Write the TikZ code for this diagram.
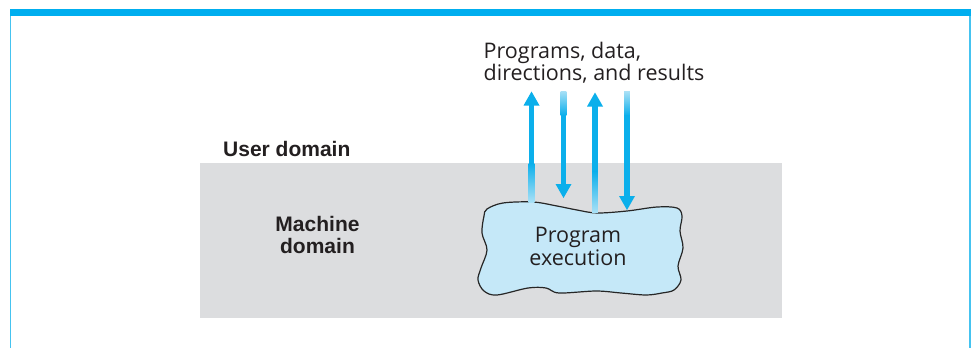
\documentclass[tikz,border=0pt]{standalone}
\usepackage{fontspec}
\setmainfont{Open Sans}
\newfontfamily\labelfont{Liberation Sans}
\usetikzlibrary{calc}
\definecolor{barc}{HTML}{00AEEF}
\definecolor{framec}{HTML}{45C3F0}
\definecolor{grayc}{HTML}{DCDDDF}
\definecolor{blobc}{HTML}{C5E8F8}
\definecolor{arrowc}{HTML}{0BAFEB}
\definecolor{fadec}{HTML}{A8E0F6}
\definecolor{textc}{HTML}{231F20}
\tikzset{
  regtext/.style={font=\fontsize{21.5}{22.5}\selectfont, text=textc, inner sep=0pt},
  boldtext/.style={font=\labelfont\bfseries\fontsize{21}{22}\selectfont, text=textc, inner sep=0pt},
}
\begin{document}
\begin{tikzpicture}[x=1pt,y=-1pt]
\useasboundingbox (0,0) rectangle (972,348);
% frame
\fill[barc] (10,9) rectangle (971,16);
\draw[framec, line width=1.5pt] (10.5,16) -- (10.5,348);
\draw[framec, line width=1.5pt] (970.2,16) -- (970.2,348);
% domains
\fill[grayc] (200,163) rectangle (782,318);
\node[boldtext, anchor=base west] (user) at (223,156) {User domain};
\node[boldtext, align=center, anchor=base] (mach) at (317.5,253) {Machine\\domain};
% blob
\filldraw[fill=blobc, draw=black!85, line width=1.2pt]
  plot[smooth cycle, tension=0.55] coordinates {
  (487,209) (503,203) (533,202) (557,206) (577,210) (597,213) (627,211)
  (657,207) (677,208) (682,216) (680,231) (683,248) (678,266) (681,280)
  (674,290) (662,293) (646,295) (621,293) (596,291) (559,293) (546,288)
  (528,288) (497,295) (484,291) (478,280) (481,268) (487,250) (482,233) (484,216)};
\node[regtext, align=center, anchor=base] (exec) at (578,265) {Program\\execution};
% label
\node[regtext, align=left, anchor=base west] (prog) at (483.5,80.7) {Programs, data,\\directions, and results};
% arrow coordinates
\coordinate (a1t) at (531.5,91.5); \coordinate (a1b) at (531.5,202);
\coordinate (a2t) at (563.5,91);   \coordinate (a2b) at (563.5,198);
\coordinate (a3t) at (595,92.5);   \coordinate (a3b) at (595,212);
\coordinate (a4t) at (627,91.5);   \coordinate (a4b) at (627,210);
% arrow 1 (up)
\fill[arrowc] ($(a1t)+(-2.8,13)$) rectangle ($(a1b)+(2.8,-38)$);
\shade[top color=arrowc, bottom color=fadec] ($(a1b)+(-2.8,-38.5)$) rectangle ($(a1b)+(2.8,0)$);
\fill[arrowc] ($(a1t)+(-8,14)$) -- (a1t) -- ($(a1t)+(8,14)$) -- cycle;
% arrow 2 (down)
\shade[top color=fadec, bottom color=arrowc] ($(a2t)+(-2.8,0)$) rectangle ($(a2t)+(2.8,24)$);
\fill[arrowc] ($(a2t)+(-2.8,23.5)$) rectangle ($(a2b)+(2.8,-13)$);
\fill[arrowc] ($(a2b)+(-8,-14)$) -- (a2b) -- ($(a2b)+(8,-14)$) -- cycle;
% arrow 3 (up)
\fill[arrowc] ($(a3t)+(-2.8,13)$) rectangle ($(a3b)+(2.8,-40)$);
\shade[top color=arrowc, bottom color=fadec] ($(a3b)+(-2.8,-40.5)$) rectangle ($(a3b)+(2.8,0)$);
\fill[arrowc] ($(a3t)+(-8,14)$) -- (a3t) -- ($(a3t)+(8,14)$) -- cycle;
% arrow 4 (down)
\shade[top color=fadec, bottom color=arrowc] ($(a4t)+(-2.8,0)$) rectangle ($(a4t)+(2.8,24)$);
\fill[arrowc] ($(a4t)+(-2.8,23.5)$) rectangle ($(a4b)+(2.8,-13)$);
\fill[arrowc] ($(a4b)+(-8,-14)$) -- (a4b) -- ($(a4b)+(8,-14)$) -- cycle;
\end{tikzpicture}
\end{document}
